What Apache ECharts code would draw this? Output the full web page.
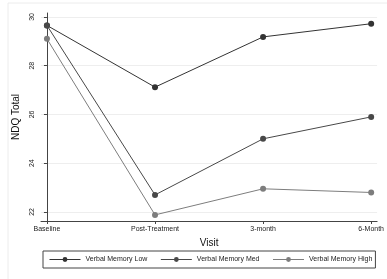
<!DOCTYPE html>
<html>
<head>
<meta charset="utf-8">
<script src="https://cdn.jsdelivr.net/npm/echarts@6/dist/echarts.min.js"></script>
<style>
  html, body { margin: 0; padding: 0; background: #fff; }
  #chart { width: 387px; height: 279px; }
</style>
</head>
<body>
<div id="chart"></div>
<script>
const visits = ['Baseline', 'Post-Treatment', '3-month', '6-Month']
const yTicks = [22, 24, 26, 28, 30]
const memLow = [29.65, 27.12, 29.18, 29.72]
const memMed = [29.65, 22.7, 25.0, 25.9]
const memHigh = [29.1, 21.88, 22.95, 22.8]

const toPoints = (arr) => arr.map((v, i) => [i, v])
const font = 'Liberation Sans, Arial, sans-serif'

function lineSeries(name, data, color) {
  return {
    name: name,
    type: 'line',
    data: toPoints(data),
    symbol: 'circle',
    symbolSize: 6,
    lineStyle: { color: color, width: 1 },
    itemStyle: { color: color },
    emphasis: { disabled: true },
  }
}

const chart = echarts.init(document.getElementById('chart'))
chart.setOption({
  animation: false,
  textStyle: { fontFamily: font },
  graphic: [
    {
      type: 'rect',
      shape: { x: 8, y: 3, width: 420, height: 320 },
      style: { fill: 'none', stroke: '#ececec', lineWidth: 1 },
      silent: true,
    },
  ],
  grid: { left: 41, right: 5, top: 13, bottom: 58 },
  xAxis: {
    type: 'value',
    min: -0.055,
    max: 3.055,
    name: 'Visit',
    nameLocation: 'middle',
    nameGap: 16,
    nameTextStyle: { fontSize: 10, color: '#111' },
    axisLine: { lineStyle: { color: '#444' } },
    axisTick: { customValues: [0, 1, 2, 3], length: 3, lineStyle: { color: '#444' } },
    axisLabel: {
      customValues: [0, 1, 2, 3],
      formatter: (v) => visits[Math.round(v)],
      fontSize: 7,
      color: '#222',
      margin: 5,
    },
    splitLine: { show: false },
  },
  yAxis: {
    type: 'value',
    min: 21.63,
    max: 30.16,
    name: 'NDQ Total',
    nameLocation: 'middle',
    nameRotate: 90,
    nameGap: 13,
    nameTextStyle: { fontSize: 10, color: '#111' },
    axisLine: { show: true, lineStyle: { color: '#444' } },
    axisTick: { show: true, customValues: yTicks, length: 3, lineStyle: { color: '#444' } },
    axisLabel: {
      customValues: yTicks,
      rotate: 90,
      fontSize: 7,
      color: '#222',
      margin: 5,
    },
    splitLine: { show: true, lineStyle: { color: '#eeeeee', width: 1 } },
  },
  legend: {
    left: 43,
    top: 251,
    width: 340,
    itemWidth: 31,
    itemHeight: 6,
    itemGap: 13,
    padding: [5, 3, 5, 6],
    borderColor: '#444',
    borderWidth: 1,
    selectedMode: false,
    lineStyle: { width: 1 },
    textStyle: { fontSize: 7, color: '#222' },
    data: ['Verbal Memory Low', 'Verbal Memory Med', 'Verbal Memory High'],
  },
  series: [
    lineSeries('Verbal Memory Low', memLow, '#333333'),
    lineSeries('Verbal Memory Med', memMed, '#484848'),
    lineSeries('Verbal Memory High', memHigh, '#7d7d7d'),
  ],
})
</script>
</body>
</html>
